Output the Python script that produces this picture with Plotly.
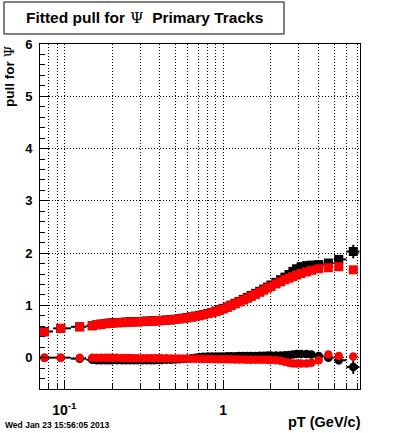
import plotly.graph_objects as go

# ---------------- data ----------------
pt = [0.075, 0.095, 0.125, 0.15,
      0.16, 0.17, 0.18, 0.19, 0.20,
      0.215, 0.23, 0.245, 0.26, 0.275, 0.29,
      0.31, 0.33, 0.35, 0.37, 0.39, 0.41,
      0.44, 0.47, 0.50, 0.53, 0.56, 0.59,
      0.63, 0.67, 0.71, 0.75,
      0.80, 0.85, 0.90, 0.95, 1.00,
      1.06, 1.12, 1.19, 1.26, 1.34, 1.42, 1.50,
      1.60, 1.70, 1.80, 1.90, 2.00,
      2.15, 2.30, 2.45, 2.60, 2.75, 2.90,
      3.10, 3.35, 3.60, 4.00,
      4.60, 5.35, 6.60]

sigma_red = [0.49, 0.56, 0.59, 0.61,
             0.63, 0.64, 0.65, 0.655, 0.66,
             0.665, 0.67, 0.675, 0.68, 0.68, 0.685,
             0.69, 0.69, 0.695, 0.70, 0.70, 0.71,
             0.715, 0.72, 0.73, 0.74, 0.75, 0.76,
             0.775, 0.79, 0.80, 0.82,
             0.84, 0.86, 0.88, 0.905, 0.93,
             0.96, 0.995, 1.03, 1.065, 1.10, 1.135, 1.17,
             1.21, 1.25, 1.29, 1.33, 1.36,
             1.41, 1.45, 1.49, 1.52, 1.55, 1.58,
             1.61, 1.64, 1.67, 1.70,
             1.72, 1.74, 1.68]

sigma_black = [0.50, 0.56, 0.59, 0.61,
               0.63, 0.64, 0.65, 0.66, 0.665,
               0.67, 0.675, 0.68, 0.685, 0.69, 0.69,
               0.695, 0.70, 0.70, 0.705, 0.71, 0.715,
               0.72, 0.725, 0.735, 0.745, 0.755, 0.765,
               0.78, 0.795, 0.81, 0.825,
               0.845, 0.865, 0.89, 0.915, 0.94,
               0.97, 1.005, 1.04, 1.075, 1.115, 1.15, 1.19,
               1.23, 1.27, 1.31, 1.35, 1.39,
               1.44, 1.49, 1.54, 1.59, 1.65, 1.70,
               1.74, 1.76, 1.77, 1.78,
               1.81, 1.88, 2.03]

sigma_black_err = [0.01, 0.01, 0.01, 0.01,
                   0.01, 0.01, 0.01, 0.01, 0.01,
                   0.01, 0.01, 0.01, 0.01, 0.01, 0.01,
                   0.01, 0.01, 0.01, 0.01, 0.01, 0.01,
                   0.01, 0.01, 0.01, 0.01, 0.01, 0.01,
                   0.01, 0.01, 0.01, 0.01,
                   0.01, 0.01, 0.01, 0.01, 0.01,
                   0.01, 0.01, 0.01, 0.01, 0.01, 0.01, 0.01,
                   0.01, 0.01, 0.01, 0.01, 0.01,
                   0.015, 0.015, 0.015, 0.02, 0.02, 0.02,
                   0.02, 0.025, 0.025, 0.03,
                   0.05, 0.08, 0.13]

mean_red = [0.0, 0.0, 0.0, 0.0,
            0.0, 0.0, 0.0, 0.0, 0.0,
            0.0, -0.005, -0.005, -0.005, -0.01, -0.01,
            -0.01, -0.01, -0.01, -0.01, -0.01, -0.01,
            -0.01, -0.015, -0.015, -0.015, -0.02, -0.02,
            -0.02, -0.02, -0.02, -0.025,
            -0.025, -0.025, -0.03, -0.03, -0.03,
            -0.03, -0.03, -0.035, -0.035, -0.035, -0.04, -0.04,
            -0.04, -0.04, -0.04, -0.04, -0.045,
            -0.05, -0.06, -0.08, -0.10, -0.11, -0.11,
            -0.11, -0.11, -0.10, -0.05,
            0.06, 0.03, 0.02]

mean_black = [0.0, 0.0, -0.02, -0.04,
              -0.05, -0.05, -0.05, -0.05, -0.05,
              -0.05, -0.05, -0.05, -0.05, -0.05, -0.05,
              -0.05, -0.05, -0.05, -0.05, -0.045, -0.045,
              -0.04, -0.04, -0.035, -0.03, -0.025, -0.02,
              -0.01, 0.0, 0.01, 0.015,
              0.02, 0.02, 0.02, 0.02, 0.02,
              0.025, 0.025, 0.025, 0.03, 0.03, 0.03, 0.03,
              0.03, 0.035, 0.035, 0.04, 0.04,
              0.04, 0.04, 0.045, 0.05, 0.06, 0.07,
              0.07, 0.07, 0.06, 0.03,
              0.0, -0.05, -0.18]

mean_black_err = [0.01, 0.01, 0.01, 0.01,
                  0.01, 0.01, 0.01, 0.01, 0.01,
                  0.01, 0.01, 0.01, 0.01, 0.01, 0.01,
                  0.01, 0.01, 0.01, 0.01, 0.01, 0.01,
                  0.01, 0.01, 0.01, 0.01, 0.01, 0.01,
                  0.01, 0.01, 0.01, 0.01,
                  0.01, 0.01, 0.01, 0.01, 0.01,
                  0.01, 0.01, 0.01, 0.01, 0.01, 0.01, 0.01,
                  0.01, 0.01, 0.01, 0.01, 0.01,
                  0.015, 0.015, 0.015, 0.02, 0.02, 0.02,
                  0.02, 0.025, 0.025, 0.03,
                  0.04, 0.08, 0.13]

x_tick_vals = [0.1, 1]
x_tick_text = ["10<sup>-1</sup>", "1"]
x_minor_vals = [0.07, 0.08, 0.09, 0.2, 0.3, 0.4, 0.5, 0.6, 0.7, 0.8, 0.9,
                2, 3, 4, 5, 6, 7]
y_tick_vals = [0, 1, 2, 3, 4, 5, 6]
y_tick_text = ["0", "1", "2", "3", "4", "5", "6"]

title_text = ("<b>Fitted pull for</b><span style='font-family:DejaVu Serif'> \u03a8</span>"
              "<b>\u00a0\u00a0Primary Tracks</b>")
ytitle_text = "<b>pull for </b><span style='font-family:DejaVu Serif'>\u03a8</span>"
xtitle_text = "<b>pT (GeV/c)</b>"
date_text = "<b>Wed Jan 23 15:56:05 2013</b>"

# bin half-widths (from neighbouring bin centres)
lo_err, hi_err = [], []
n = len(pt)
for i in range(n):
    hi = (pt[i + 1] - pt[i]) / 2 if i < n - 1 else (pt[i] - pt[i - 1]) / 2
    lo = (pt[i] - pt[i - 1]) / 2 if i > 0 else hi
    lo_err.append(lo)
    hi_err.append(hi)

FONT = "Liberation Sans"
fig = go.Figure()

def black_trace(y, yerr, symbol, size):
    return go.Scatter(
        x=pt, y=y, mode="markers",
        marker=dict(symbol=symbol, size=size, color="black", line=dict(width=0)),
        error_x=dict(type="data", symmetric=False, array=hi_err, arrayminus=lo_err,
                     color="black", thickness=2, width=0),
        error_y=dict(type="data", array=yerr, color="black", thickness=2, width=0),
        hoverinfo="skip")

def red_trace(y, symbol, size):
    return go.Scatter(
        x=pt, y=y, mode="markers",
        marker=dict(symbol=symbol, size=size, color="red", line=dict(width=0)),
        hoverinfo="skip")

fig.add_trace(black_trace(mean_black, mean_black_err, "circle", 8.5))
fig.add_trace(black_trace(sigma_black, sigma_black_err, "square", 9))
fig.add_trace(red_trace(mean_red, "circle", 8.5))
fig.add_trace(red_trace(sigma_red, "square", 9))

DASH = "1px,2px"
fig.update_layout(
    width=400, height=433,
    margin=dict(l=40, r=40, t=44, b=44, pad=0),
    paper_bgcolor="white", plot_bgcolor="white",
    showlegend=False,
    xaxis=dict(
        type="log", range=[-1.153, 0.862],
        tickmode="array", tickvals=x_tick_vals, ticktext=x_tick_text,
        ticks="inside", ticklen=9, tickwidth=1, tickcolor="black",
        showline=True, linecolor="black", linewidth=1, mirror=True,
        showgrid=True, gridcolor="black", gridwidth=1, griddash=DASH,
        zeroline=False,
        minor=dict(tickmode="array", tickvals=x_minor_vals, ticks="inside",
                   ticklen=5, tickwidth=1, tickcolor="black",
                   showgrid=True, gridcolor="black", gridwidth=1, griddash=DASH),
        tickfont=dict(family=FONT, size=14, color="black", weight="bold"),
        ticklabelstandoff=8,
    ),
    yaxis=dict(
        range=[-0.6, 6],
        tickmode="array", tickvals=y_tick_vals, ticktext=y_tick_text,
        ticks="inside", ticklen=9, tickwidth=1, tickcolor="black",
        showline=True, linecolor="black", linewidth=1, mirror=True,
        showgrid=True, gridcolor="black", gridwidth=1, griddash=DASH,
        zeroline=False,
        minor=dict(tickmode="linear", tick0=0, dtick=0.2, ticks="inside",
                   ticklen=5, tickwidth=1, tickcolor="black", showgrid=False),
        tickfont=dict(family=FONT, size=13, color="black", weight="bold"),
        ticklabelstandoff=4,
    ),
    shapes=[dict(type="rect", xref="paper", yref="paper",
                 x0=-0.1125, x1=0.7625, y0=1.029, y1=1.1217,
                 line=dict(color="black", width=1), fillcolor="white", layer="above")],
    annotations=[
        dict(text=title_text, xref="paper", yref="paper", x=0.328, y=1.0754,
             xanchor="center", yanchor="middle", showarrow=False,
             font=dict(family=FONT, size=15.5, color="black")),
        dict(text=ytitle_text, xref="paper", yref="paper", x=-0.097, y=1.003,
             xanchor="center", yanchor="top", textangle=-90, showarrow=False,
             font=dict(family=FONT, size=13.5, color="black")),
        dict(text=xtitle_text, xref="paper", yref="paper", x=1.009, y=-0.0945,
             xanchor="right", yanchor="middle", showarrow=False,
             font=dict(family=FONT, size=14.5, color="black")),
        dict(text=date_text, xref="paper", yref="paper", x=-0.116, y=-0.1029,
             xanchor="left", yanchor="middle", showarrow=False,
             font=dict(family=FONT, size=8.5, color="black")),
    ],
)

fig.write_html("out.html", config={"displayModeBar": False},
               post_script="document.body.style.margin='0';document.body.style.padding='0';")
